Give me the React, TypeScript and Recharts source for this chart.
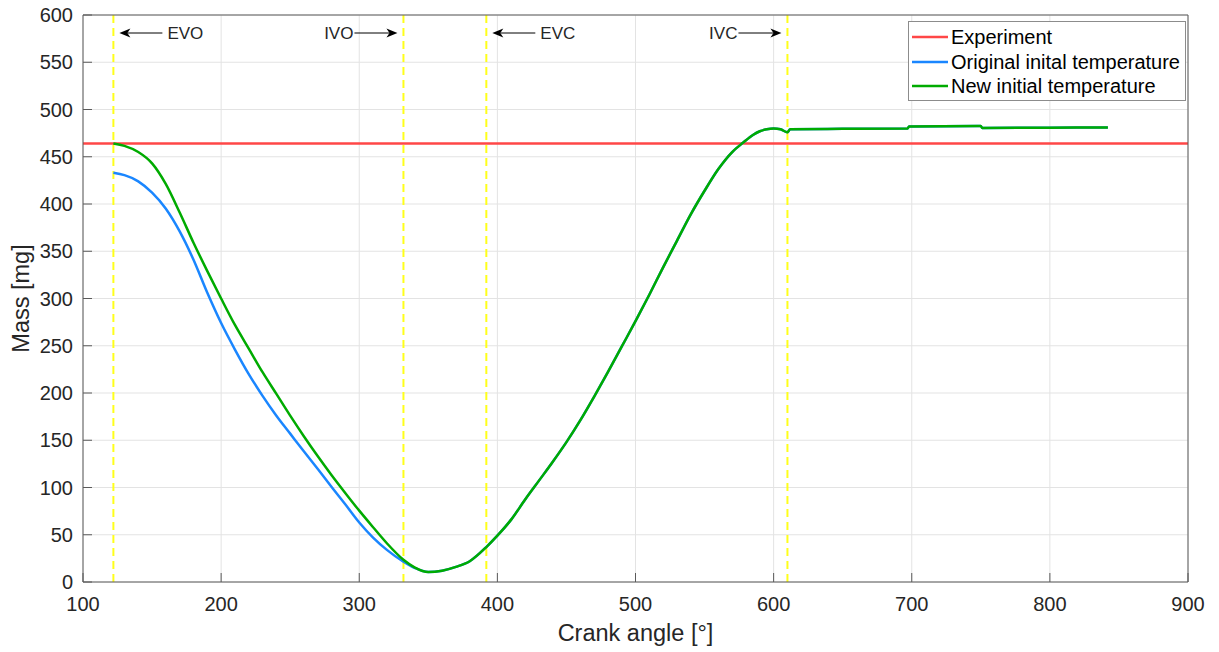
import React from 'react';
import { LineChart, Line, XAxis, YAxis, CartesianGrid, ReferenceLine, Legend } from 'recharts';

// ---- data ----
const crankAngle = [122, 130, 140, 150, 160, 170, 180, 190, 200, 210, 220, 230, 240, 250, 260, 270, 280, 290, 300, 310, 320, 332, 340, 350, 360, 370, 380, 392, 400, 410, 420, 430, 440, 450, 460, 470, 480, 490, 500, 510, 520, 530, 540, 550, 560, 570, 578, 585, 590, 595, 600, 605, 610, 612, 650, 697, 698, 750, 751, 800, 842];
const originalTemp = [433, 430.5, 424, 412, 395, 371, 341, 306, 274, 246, 220, 197, 176, 157, 138, 119.5, 100.5, 82, 63, 47, 34, 21.5, 15, 10.5, 12, 16, 22, 37, 49, 66, 87, 107, 127, 148, 171, 196, 222, 249, 276, 304, 333, 361, 389, 414, 437, 455, 465, 473, 477, 479, 479.8, 479, 476, 479, 479.5, 480, 482, 482.5, 480.5, 480.8, 481];
const newTemp = [464, 461.5, 455, 443, 421, 391, 359, 329, 300, 272, 247, 222, 199, 176, 154, 133, 113, 94, 75.5, 58, 41, 23.5, 15.5, 10.5, 12, 16, 22, 37, 49, 66, 87, 107, 127, 148, 171, 196, 222, 249, 276, 304, 333, 361, 389, 414, 437, 455, 465, 473, 477, 479, 479.8, 479, 476, 479, 479.5, 480, 482, 482.5, 480.5, 480.8, 481];
const experimentAngle = [100, 900];
const experimentMass = [464, 464];
const xTicks = [100, 200, 300, 400, 500, 600, 700, 800, 900];
const yTicks = [0, 50, 100, 150, 200, 250, 300, 350, 400, 450, 500, 550, 600];
const eventNames = ['EVO', 'IVO', 'EVC', 'IVC'];
const eventAngles = [122, 332, 392, 610];
const eventTextSide = ['right', 'left', 'right', 'left'];
const seriesNames = ['Experiment', 'Original inital temperature', 'New initial temperature'];

const originalData = crankAngle.map((a, i) => ({ angle: a, mass: originalTemp[i] }));
const newData = crankAngle.map((a, i) => ({ angle: a, mass: newTemp[i] }));
const experimentData = experimentAngle.map((a, i) => ({ angle: a, mass: experimentMass[i] }));

const FONT = '"Liberation Sans", Arial, Helvetica, sans-serif';
const TXT = '#262626';
const AXIS = '#5a5a5a';
const TICK = 9;

const BottomTick = (props: any) => {
  const { x, y, payload } = props;
  return (
    <g>
      <line x1={x} x2={x} y1={y} y2={y - TICK} stroke={AXIS} strokeWidth={1} />
      <text x={x} y={y + 29} textAnchor="middle" fontSize={20} fill={TXT} fontFamily={FONT}>{payload.value}</text>
    </g>
  );
};
const TopTick = (props: any) => {
  const { x, y } = props;
  return <line x1={x} x2={x} y1={y} y2={y + TICK} stroke={AXIS} strokeWidth={1} />;
};
const LeftTick = (props: any) => {
  const { x, y, payload } = props;
  return (
    <g>
      <line x1={x} x2={x + TICK} y1={y} y2={y} stroke={AXIS} strokeWidth={1} />
      <text x={x - 10} y={y + 7} textAnchor="end" fontSize={20} fill={TXT} fontFamily={FONT}>{payload.value}</text>
    </g>
  );
};
const RightTick = (props: any) => {
  const { x, y } = props;
  return <line x1={x} x2={x - TICK} y1={y} y2={y} stroke={AXIS} strokeWidth={1} />;
};

const EventLabel = (props: any) => {
  const { viewBox, text, side } = props;
  if (!viewBox) return null;
  const lx = viewBox.x;
  const y = viewBox.y + 18;
  if (side === 'right') {
    const tip = lx + 6;
    const tail = lx + 49;
    return (
      <g>
        <line x1={tail} y1={y} x2={tip + 8} y2={y} stroke="#000" strokeWidth={1} />
        <path d={`M${tip},${y} L${tip + 11},${y - 4.5} L${tip + 8},${y} L${tip + 11},${y + 4.5} Z`} fill="#000" />
        <text x={tail + 5} y={y + 6} fontSize={17} fill={TXT} fontFamily={FONT}>{text}</text>
      </g>
    );
  }
  const tip = lx - 6;
  const tail = lx - 49;
  return (
    <g>
      <line x1={tail} y1={y} x2={tip - 8} y2={y} stroke="#000" strokeWidth={1} />
      <path d={`M${tip},${y} L${tip - 11},${y - 4.5} L${tip - 8},${y} L${tip - 11},${y + 4.5} Z`} fill="#000" />
      <text x={tail - 1} y={y + 6} fontSize={17} textAnchor="end" fill={TXT} fontFamily={FONT}>{text}</text>
    </g>
  );
};

const renderLegend = (props: any) => {
  const items = [...(props.payload || [])].sort(
    (a: any, b: any) => seriesNames.indexOf(a.value) - seriesNames.indexOf(b.value)
  );
  return (
    <div style={{ width: 278, height: 80, border: '1px solid #8c8c8c', background: '#fff', paddingTop: 3, boxSizing: 'border-box', fontFamily: FONT }}>
      {items.map((e: any, i: number) => (
        <div key={i} style={{ display: 'flex', alignItems: 'center', height: 24.5 }}>
          <svg width={40} height={6} style={{ marginLeft: 3 }}>
            <line x1={0} x2={36} y1={3} y2={3} stroke={e.color} strokeWidth={2.5} />
          </svg>
          <span style={{ fontSize: 20, color: '#000', marginLeft: -1, lineHeight: '24px' }}>{e.value}</span>
        </div>
      ))}
    </div>
  );
};

export default function App() {
  return (
    <div style={{ position: 'absolute', left: 0, top: 0, width: 1219, height: 652, background: '#fff', fontFamily: FONT }}>
      <LineChart width={1219} height={652} margin={{ top: 14, right: 30, bottom: 0, left: 0 }}>
        <CartesianGrid stroke="#e3e3e3" strokeWidth={1} />
        <XAxis
          dataKey="angle"
          type="number"
          domain={[100, 900]}
          ticks={xTicks}
          interval={0}
          height={70}
          tickSize={0}
          tickMargin={0}
          tickLine={false}
          axisLine={{ stroke: AXIS }}
          tick={<BottomTick />}
          label={({ viewBox }: any) => (
            <text x={viewBox.x + viewBox.width / 2} y={viewBox.y + 59} textAnchor="middle" fontSize={23.5} fill={TXT} fontFamily={FONT}>Crank angle [°]</text>
          )}
        />
        <XAxis
          xAxisId="top"
          orientation="top"
          dataKey="angle"
          type="number"
          domain={[100, 900]}
          ticks={xTicks}
          interval={0}
          height={1}
          tickSize={0}
          tickMargin={0}
          tickLine={false}
          axisLine={{ stroke: AXIS }}
          tick={<TopTick />}
        />
        <YAxis
          type="number"
          domain={[0, 600]}
          ticks={yTicks}
          interval={0}
          width={83}
          tickSize={0}
          tickMargin={0}
          tickLine={false}
          axisLine={{ stroke: AXIS }}
          tick={<LeftTick />}
          label={({ viewBox }: any) => {
            const cx = 29;
            const cy = viewBox.y + viewBox.height / 2;
            return (
              <text x={cx} y={cy} transform={`rotate(-90, ${cx}, ${cy})`} textAnchor="middle" fontSize={23.5} fill={TXT} fontFamily={FONT}>Mass [mg]</text>
            );
          }}
        />
        <YAxis
          yAxisId="right"
          orientation="right"
          type="number"
          domain={[0, 600]}
          ticks={yTicks}
          interval={0}
          width={1}
          tickSize={0}
          tickMargin={0}
          tickLine={false}
          axisLine={{ stroke: AXIS }}
          tick={<RightTick />}
        />
        {eventAngles.map((a, i) => (
          <ReferenceLine
            key={eventNames[i]}
            x={a}
            stroke="#ffff1a"
            strokeWidth={2}
            strokeDasharray="8 5"
            label={<EventLabel text={eventNames[i]} side={eventTextSide[i]} />}
          />
        ))}
        <Line data={experimentData} dataKey="mass" name={seriesNames[0]} stroke="#ff4747" strokeWidth={2.5} dot={false} isAnimationActive={false} />
        <Line data={originalData} dataKey="mass" name={seriesNames[1]} stroke="#1a86ff" strokeWidth={2.5} dot={false} type="monotone" isAnimationActive={false} />
        <Line data={newData} dataKey="mass" name={seriesNames[2]} stroke="#00ab00" strokeWidth={2.5} dot={false} type="monotone" isAnimationActive={false} />
        <Legend
          layout="vertical"
          align="center"
          verticalAlign="middle"
          content={renderLegend}
          wrapperStyle={{ position: 'absolute', top: 21, left: 908, width: 278, height: 80 }}
        />
      </LineChart>
    </div>
  );
}
